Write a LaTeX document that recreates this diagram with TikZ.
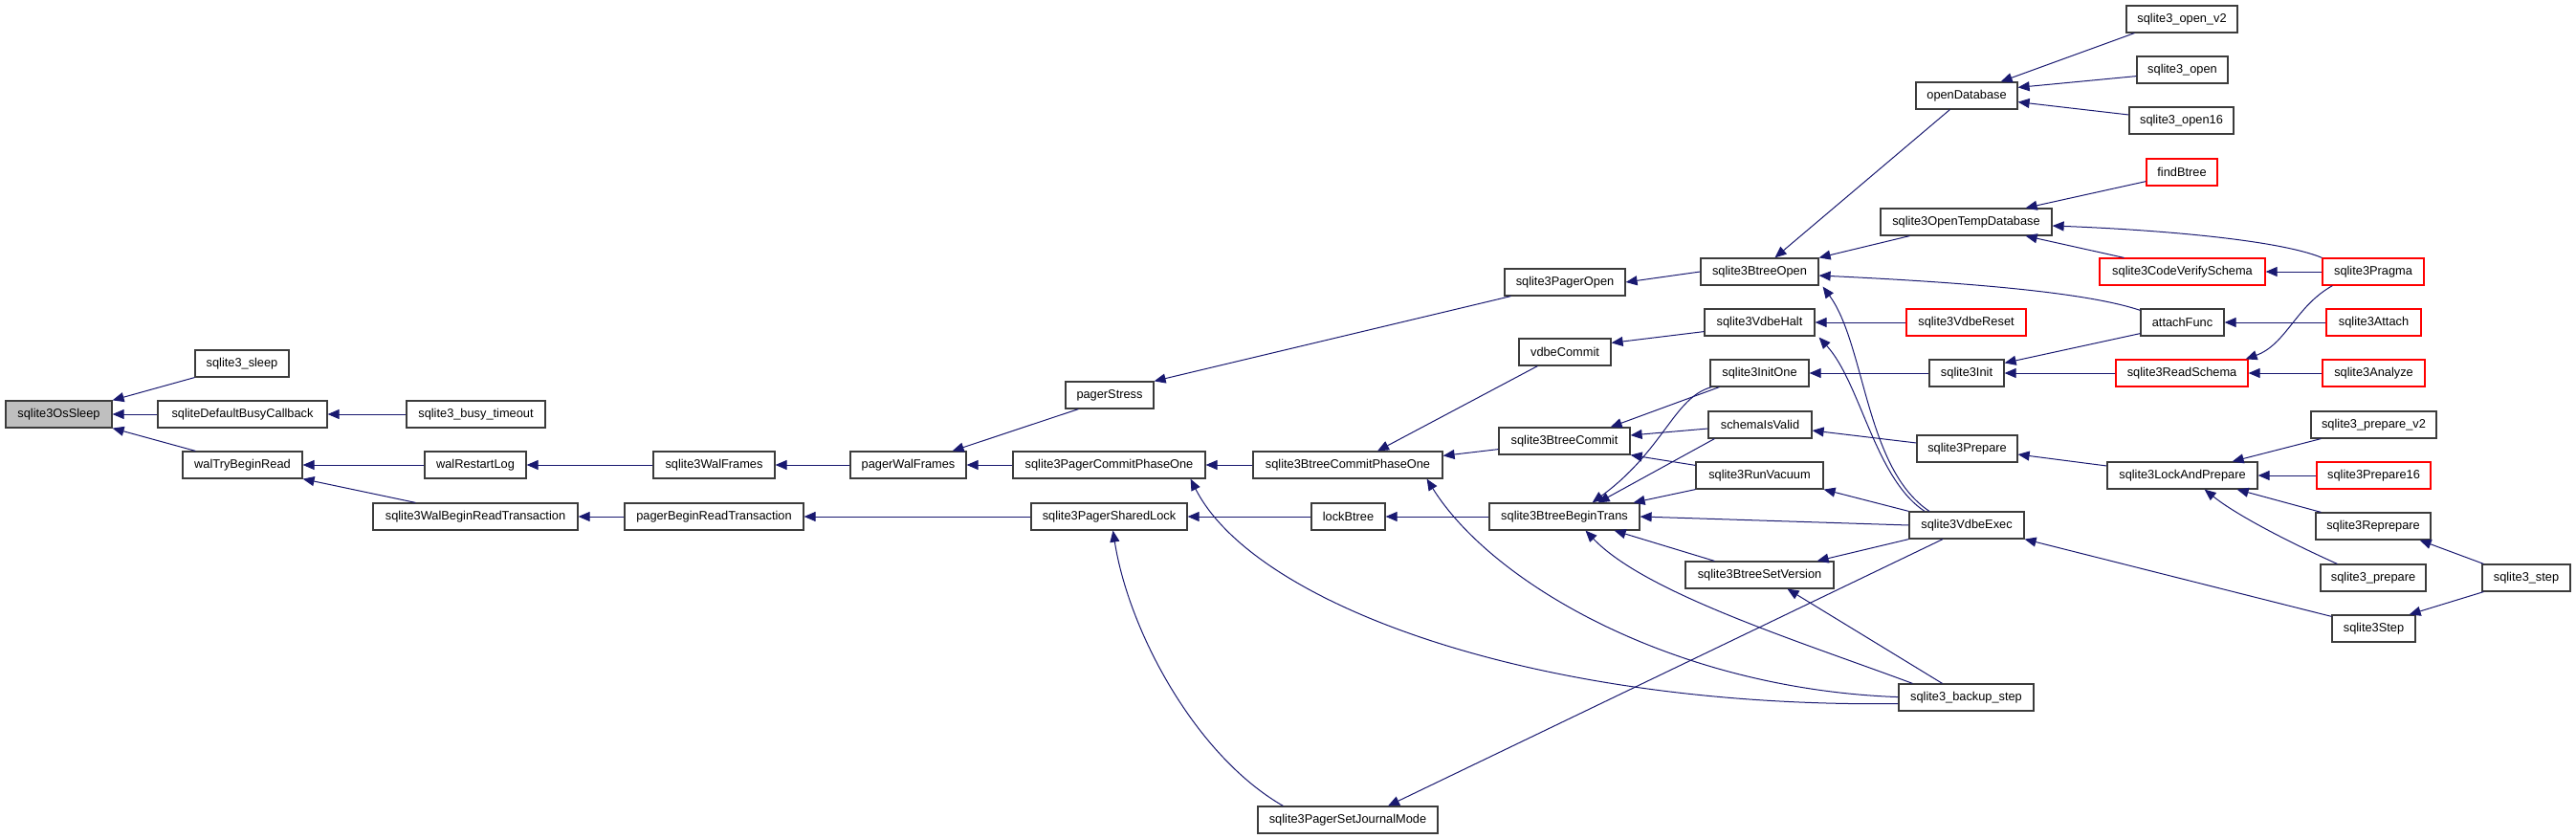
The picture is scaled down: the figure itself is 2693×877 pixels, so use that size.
\documentclass[tikz,border=0pt]{standalone}
\usepackage{fontspec}
\setmainfont{Liberation Sans}
\usetikzlibrary{arrows.meta,calc}
\definecolor{edgeblue}{RGB}{25,25,112}
\definecolor{boxgrey}{RGB}{191,191,191}
\definecolor{boxline}{RGB}{60,60,60}
\tikzset{
  box/.style={draw=boxline,line width=0.9pt,fill=white,inner sep=0pt,rectangle,
    font=\fontsize{9.6}{11}\selectfont},
  redbox/.style={draw=red},
  mainbox/.style={fill=boxgrey},
  edge/.style={draw=edgeblue,line width=0.75pt,-{Triangle[length=9pt,width=7.5pt]}}
}
\newcommand\nd[7][]{\node[box,#1,minimum width={(#5-#3)*0.75pt},minimum height={(#6-#4)*0.75pt}] (#2) at ({(#3+#5)/2},{(#4+#6)/2}) {#7};}
\begin{document}
\begin{tikzpicture}[x=0.75pt,y=-0.75pt]
\useasboundingbox (0,0) rectangle (2693,877);
% nodes
\nd[mainbox]{OsSleep}{6}{419}{117}{447}{sqlite3OsSleep}
\nd{sleep}{204}{366}{302}{394}{sqlite3\_sleep}
\nd{busycb}{165}{419}{342}{447}{sqliteDefaultBusyCallback}
\nd{busyto}{425}{419}{570}{447}{sqlite3\_busy\_timeout}
\nd{waltry}{191}{472}{316}{500}{walTryBeginRead}
\nd{walrestart}{444}{472}{550}{500}{walRestartLog}
\nd{walframes}{683}{472}{810}{500}{sqlite3WalFrames}
\nd{walbrt}{390}{526}{604}{554}{sqlite3WalBeginReadTransaction}
\nd{pagerbrt}{653}{526}{840}{554}{pagerBeginReadTransaction}
\nd{pwf}{889}{472}{1010}{500}{pagerWalFrames}
\nd{pstress}{1114}{399}{1206}{427}{pagerStress}
\nd{popen}{1573}{281}{1699}{309}{sqlite3PagerOpen}
\nd{pcp1}{1059}{472}{1260}{500}{sqlite3PagerCommitPhaseOne}
\nd{psl}{1078}{526}{1241}{554}{sqlite3PagerSharedLock}
\nd{psjm}{1315}{843}{1503}{871}{sqlite3PagerSetJournalMode}
\nd{vcommit}{1588}{354}{1684}{382}{vdbeCommit}
\nd{bcp1}{1310}{472}{1508}{500}{sqlite3BtreeCommitPhaseOne}
\nd{lockbtree}{1371}{526}{1448}{554}{lockBtree}
\nd{bcommit}{1567}{447}{1704}{475}{sqlite3BtreeCommit}
\nd{btrans}{1557}{526}{1714}{554}{sqlite3BtreeBeginTrans}
\nd{btopen}{1778}{270}{1901}{298}{sqlite3BtreeOpen}
\nd{vhalt}{1782}{323}{1897}{351}{sqlite3VdbeHalt}
\nd{initone}{1788}{376}{1891}{404}{sqlite3InitOne}
\nd{schema}{1786}{430}{1894}{458}{schemaIsValid}
\nd{runvac}{1773}{483}{1906}{511}{sqlite3RunVacuum}
\nd{setver}{1762}{587}{1917}{615}{sqlite3BtreeSetVersion}
\nd{opendb}{2003}{86}{2109}{114}{openDatabase}
\nd{opentemp}{1966}{218}{2145}{246}{sqlite3OpenTempDatabase}
\nd[redbox]{vreset}{1993}{323}{2118}{351}{sqlite3VdbeReset}
\nd{init}{2017}{376}{2095}{404}{sqlite3Init}
\nd{prepare}{2004}{455}{2109}{483}{sqlite3Prepare}
\nd{vexec}{1996}{535}{2116}{563}{sqlite3VdbeExec}
\nd{backup}{1985}{715}{2126}{743}{sqlite3\_backup\_step}
\nd{ov2}{2223}{6}{2339}{34}{sqlite3\_open\_v2}
\nd{oopen}{2234}{59}{2329}{87}{sqlite3\_open}
\nd{o16}{2226}{112}{2335}{140}{sqlite3\_open16}
\nd[redbox]{findb}{2244}{166}{2318}{194}{findBtree}
\nd[redbox]{codev}{2195}{270}{2368}{298}{sqlite3CodeVerifySchema}
\nd{afunc}{2238}{323}{2325}{351}{attachFunc}
\nd[redbox]{rschema}{2212}{376}{2350}{404}{sqlite3ReadSchema}
\nd{lap}{2203}{483}{2360}{511}{sqlite3LockAndPrepare}
\nd{step}{2438}{643}{2525}{671}{sqlite3Step}
\nd[redbox]{pragma}{2428}{270}{2534}{298}{sqlite3Pragma}
\nd[redbox]{attach}{2432}{323}{2531}{351}{sqlite3Attach}
\nd[redbox]{analyze}{2428}{376}{2535}{404}{sqlite3Analyze}
\nd{pv2}{2416}{430}{2547}{458}{sqlite3\_prepare\_v2}
\nd[redbox]{p16}{2422}{483}{2541}{511}{sqlite3Prepare16}
\nd{reprep}{2421}{536}{2541}{564}{sqlite3Reprepare}
\nd{sprep}{2426}{590}{2536}{618}{sqlite3\_prepare}
\nd{sstep}{2595}{590}{2687}{618}{sqlite3\_step}
% edges (caller -> callee)
\draw[edge] (sleep.south west) -- (OsSleep.north east);
\draw[edge] (busycb.west) -- (OsSleep.east);
\draw[edge] ($(waltry.north west)+(14,0)$) -- (OsSleep.south east);
\draw[edge] (busyto.west) -- (busycb.east);
\draw[edge] (walrestart.west) -- (waltry.east);
\draw[edge] ($(walbrt.north west)+(45,0)$) -- (waltry.south east);
\draw[edge] (walframes.west) -- (walrestart.east);
\draw[edge] (pagerbrt.west) -- (walbrt.east);
\draw[edge] (pwf.west) -- (walframes.east);
\draw[edge] (psl.west) -- (pagerbrt.east);
\draw[edge] ($(pstress.south west)+(14,0)$) -- ($(pwf.north east)+(-15,0)$);
\draw[edge] (pcp1.west) -- (pwf.east);
\draw[edge] ($(popen.south west)+(7,0)$) -- (pstress.north east);
\draw[edge] (btopen.west) -- (popen.east);
\draw[edge] (bcp1.west) -- (pcp1.east);
\draw[edge] ($(backup.south west)+(0,-8)$) .. controls (1600,740) and (1310,630) .. ($(pcp1.south east)+(-16,0)$);
\draw[edge] (lockbtree.west) -- (psl.east);
\draw[edge] ($(psjm.north west)+(27,0)$) .. controls (1250,790) and (1180,660) .. ($(psl.south)+(4,0)$);
\draw[edge] ($(vcommit.south west)+(20,0)$) -- ($(bcp1.north)+(31,0)$);
\draw[edge] ($(bcommit.south west)+(0,-6)$) -- ($(bcp1.north east)+(0,5)$);
\draw[edge] ($(backup.south west)+(0,-15)$) .. controls (1750,720) and (1560,610) .. ($(bcp1.south east)+(-17,0)$);
\draw[edge] (btrans.west) -- (lockbtree.east);
\draw[edge] ($(vhalt.south west)+(0,-5)$) -- ($(vcommit.north east)+(0,5)$);
\draw[edge] ($(vexec.south)+(-25,0)$) -- ($(psjm.north)+(42,0)$);
\draw[edge] ($(initone.south west)+(10,0)$) -- ($(bcommit.north east)+(-21,0)$);
\draw[edge] ($(initone.south west)+(2,0)$) .. controls (1750,415) and (1740,470) .. ($(btrans.north east)+(-50,0)$);
\draw[edge] ($(schema.west)+(0,4)$) -- ($(bcommit.east)+(0,-6)$);
\draw[edge] ($(schema.south west)+(7,0)$) -- ($(btrans.north east)+(-44,0)$);
\draw[edge] ($(runvac.north west)+(0,4)$) -- (bcommit.south east);
\draw[edge] (runvac.south west) -- ($(btrans.north east)+(-7,0)$);
\draw[edge] (vexec.west) -- (btrans.east);
\draw[edge] ($(setver.north west)+(31,0)$) -- ($(btrans.south east)+(-27,0)$);
\draw[edge] ($(backup.north west)+(15,0)$) .. controls (1880,670) and (1720,620) .. ($(btrans.south)+(22,0)$);
\draw[edge] (vexec.south west) -- ($(setver.north east)+(-18,0)$);
\draw[edge] ($(backup.north)+(-25,0)$) -- ($(setver.south)+(29,0)$);
\draw[edge] (vexec.north west) -- (runvac.south east);
\draw[edge] ($(vexec.north)+(-39,0)$) .. controls (1950,490) and (1950,360) .. ($(btopen.south east)+(4,1)$);
\draw[edge] ($(vexec.north)+(-44,0)$) .. controls (1960,500) and (1945,400) .. ($(vhalt.south east)+(4,1)$);
\draw[edge] ($(prepare.west)+(0,-6)$) -- ($(schema.east)+(0,6)$);
\draw[edge] ($(lap.west)+(0,-10)$) -- ($(prepare.east)+(0,6)$);
\draw[edge] ($(pv2.south west)+(11,0)$) -- ($(lap.north east)+(-27,0)$);
\draw[edge] (p16.west) -- (lap.east);
\draw[edge] ($(reprep.north west)+(6,0)$) -- ($(lap.south east)+(-22,0)$);
\draw[edge] ($(sprep.north west)+(18,0)$) .. controls (2400,570) and (2340,540) .. ($(lap.south east)+(-56,0)$);
\draw[edge] ($(sstep.north west)+(2,0)$) -- ($(reprep.south east)+(-12,0)$);
\draw[edge] ($(sstep.south west)+(2,0)$) -- ($(step.north east)+(-7,0)$);
\draw[edge] ($(step.north west)+(0,2)$) -- (vexec.south east);
\draw[edge] ($(ov2.south west)+(9,0)$) -- ($(opendb.north east)+(-18,0)$);
\draw[edge] ($(oopen.south west)+(0,-8)$) -- ($(opendb.north east)+(0,6)$);
\draw[edge] ($(o16.west)+(0,-6)$) -- ($(opendb.south east)+(0,-8)$);
\draw[edge] ($(opendb.south west)+(36,0)$) -- ($(btopen.north)+(16,0)$);
\draw[edge] ($(findb.south west)+(0,-5)$) -- ($(opentemp.north east)+(-28,0)$);
\draw[edge] ($(opentemp.south west)+(31,0)$) -- (btopen.north east);
\draw[edge] ($(codev.north west)+(26,0)$) -- ($(opentemp.south east)+(-28,0)$);
\draw[edge] (pragma.north west) .. controls (2380,250) and (2250,240) .. ($(opentemp.east)+(0,4)$);
\draw[edge] (pragma.west) -- (codev.east);
\draw[edge] ($(afunc.north west)+(0,2)$) .. controls (2180,305) and (2050,295) .. ($(btopen.east)+(0,4)$);
\draw[edge] (vreset.west) -- (vhalt.east);
\draw[edge] (init.west) -- (initone.east);
\draw[edge] ($(afunc.south west)+(0,-3)$) -- ($(init.north east)+(0,4)$);
\draw[edge] (attach.west) -- (afunc.east);
\draw[edge] (rschema.west) -- (init.east);
\draw[edge] (analyze.west) -- (rschema.east);
\draw[edge] ($(pragma.south west)+(11,0)$) .. controls (2400,320) and (2390,360) .. ($(rschema.north east)+(-3,0)$);
\end{tikzpicture}
\end{document}
